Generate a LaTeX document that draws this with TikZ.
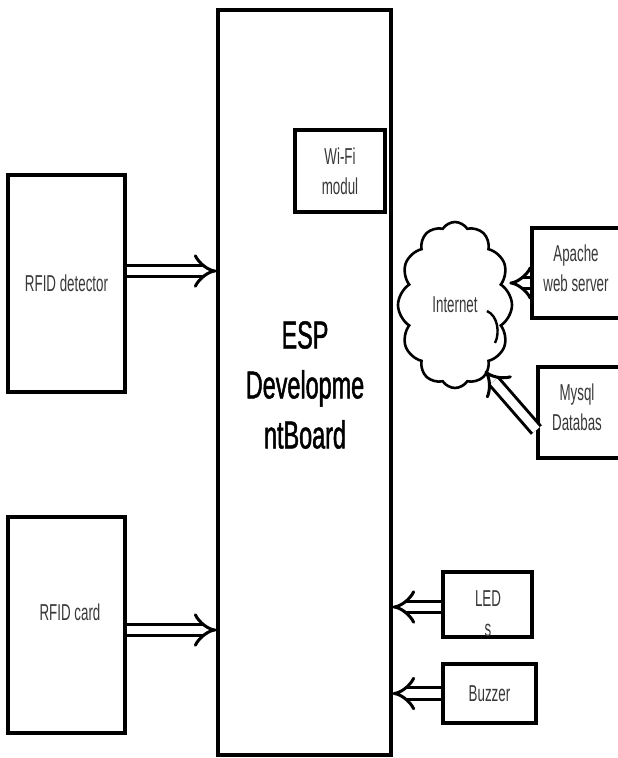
\documentclass[tikz,border=0pt]{standalone}
\usepackage{fontspec}
\setmainfont{Liberation Sans}[FakeStretch=0.58]
\newfontfamily\espfont{Liberation Sans}[FakeStretch=0.6, FakeBold=1.2]
\usetikzlibrary{arrows.meta,shapes.symbols,calc}
\begin{document}
\begin{tikzpicture}[x=1pt,y=-1pt,
  blk/.style={draw, line width=3.2pt, inner sep=0pt, anchor=center, fill=white,
    font=\fontsize{23}{30}\selectfont, text=black!78, align=center},
  lbl/.style={inner sep=0pt, font=\fontsize{23}{30}\selectfont, text=black!78, align=center},
  big/.style={inner sep=0pt, font=\espfont\fontsize{39}{50}\selectfont, text=black, align=center},
  dbl/.style={line width=3pt, double=white, double distance=8.5pt, -{Implies}, draw=black},
]
\useasboundingbox (0,0) rectangle (618,758);
\fill[white] (0,0) rectangle (618,758);
% main board
\node[blk, minimum width=173pt, minimum height=745pt] (board) at (304.5,382.5) {};
\node[big] (esp) at (305,385) {ESP\\Developme\\ntBoard};
\node[blk, minimum width=90pt, minimum height=82pt] (wifi) at (340,171) {Wi-Fi\\modul};
% left boxes
\node[blk, minimum width=117pt, minimum height=217pt] (det) at (66.5,283.5) {RFID detector};
\node[blk, minimum width=117pt, minimum height=216pt] (card) at (66.5,625) {};
\node[lbl] (cardtxt) at (70,612) {RFID card};
% right side
\node[cloud, draw, line width=2.6pt, cloud puffs=12, cloud puff arc=115, cloud ignores aspect,
  minimum width=114pt, minimum height=166pt, inner sep=0pt,
  font=\fontsize{23}{30}\selectfont, text=black!78] (net) at (455,305) {Internet};
\draw[line width=2.4pt] (487,311) .. controls (498,316) and (500,333) .. (495,343);
\node[blk, minimum width=90pt, minimum height=90pt] (ap) at (577,273) {};
\node[lbl] (aptxt) at (576,268) {Apache\\web server};
\node[blk, minimum width=84pt, minimum height=91pt] (my) at (580,412.5) {};
\node[lbl] (mytxt) at (577,407.5) {Mysql\\Databas};
\node[blk, minimum width=89pt, minimum height=65pt] (led) at (487.5,604.5) {};
\node[lbl] (ledtxt) at (488,614) {LED\\s};
\node[blk, minimum width=93pt, minimum height=59pt] (buz) at (489.5,693.5) {Buzzer};
% arrows
\coordinate (netin) at (485,371);
\draw[dbl] ([yshift=12.5pt]det.east) -- ([yshift=12.5pt]det.east -| board.west);
\draw[dbl] ([yshift=-5pt]card.east) -- ([yshift=-5pt]card.east -| board.west);
\draw[dbl] ([yshift=-10pt]ap.west) -- ([yshift=-10pt,xshift=-4pt]ap.west -| net.east);
\draw[dbl] ([yshift=-17.5pt]my.west) -- (netin);
\draw[dbl] ([yshift=-2.5pt]led.west) -- ([yshift=-2.5pt]led.west -| board.east);
\draw[dbl] (buz.west) -- (buz.west -| board.east);
\end{tikzpicture}
\end{document}
